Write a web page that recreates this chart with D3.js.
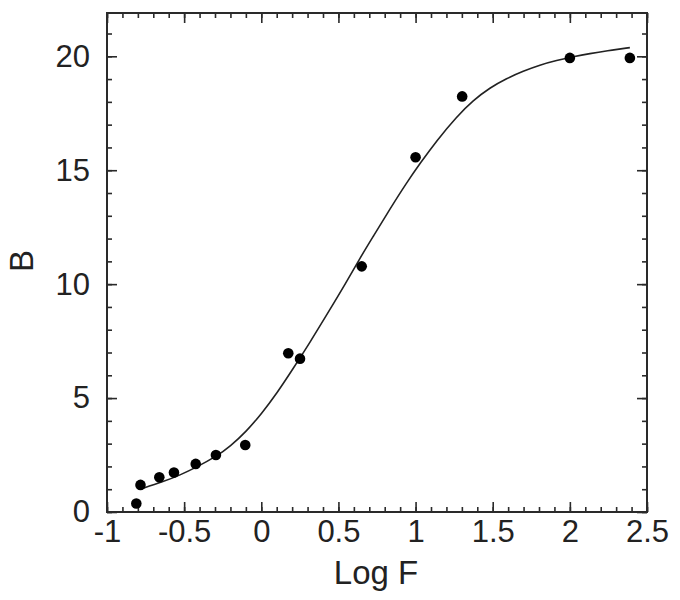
<!DOCTYPE html>
<html>
<head>
<meta charset="utf-8">
<script src="https://cdn.jsdelivr.net/npm/d3@7"></script>
<style>
  body { margin: 0; background: #fff; }
  svg { font-family: "Liberation Sans", Arial, sans-serif; }
  .axis path { display: none; }
  .axis line { stroke: #2a2a2a; stroke-width: 1.6; }
  .axis text { fill: #222; font-size: 31px; font-family: "Liberation Sans", Arial, sans-serif; }
</style>
</head>
<body>
<script>
// measured points, Log F vs B
var logF = [-0.81, -0.783, -0.661, -0.566, -0.425, -0.294, -0.104, 0.175, 0.251, 0.651, 1.0, 1.302, 2.0, 2.389];
var bVals = [0.37, 1.19, 1.52, 1.73, 2.11, 2.5, 2.94, 6.97, 6.73, 10.78, 15.57, 18.24, 19.93, 19.93];

// fitted curve
var fitX = [-0.786, -0.635, -0.527, -0.419, -0.289, -0.203, -0.095, 0.0, 0.1, 0.207, 0.316, 0.424, 0.553, 0.64, 0.726, 0.834, 0.942, 1.029, 1.137, 1.266, 1.374, 1.482, 1.59, 1.698, 1.806, 1.914, 2.022, 2.13, 2.238, 2.389];
var fitB = [1.0, 1.33, 1.62, 1.97, 2.45, 2.87, 3.55, 4.3, 5.2, 6.3, 7.45, 8.65, 10.1, 11.15, 12.1, 13.3, 14.45, 15.3, 16.3, 17.35, 18.07, 18.62, 19.03, 19.35, 19.62, 19.82, 19.98, 20.12, 20.24, 20.38];

var xTicks = [-1, -0.5, 0, 0.5, 1, 1.5, 2, 2.5];
var yTicks = [0, 5, 10, 15, 20];

function drawChart(){

  var width = 680, height = 600;
  var pLeft = 107, pRight = 647, pTop = 13, pBottom = 512;

  var svg = d3.select("body").append("svg")
    .attr("width", width)
    .attr("height", height);

  var x = d3.scaleLinear().domain([-1, 2.5]).range([pLeft, pRight]);
  var y = d3.scaleLinear().domain([0, 21.9]).range([pBottom, pTop]);

  var xMinor = d3.range(-10, 26).map(d => d / 10);
  var yMinor = d3.range(0, 22);

  // minor ticks all four sides (pointing inward)
  svg.append("g").attr("class", "axis")
    .attr("transform", "translate(0," + pBottom + ")")
    .call(d3.axisBottom(x).tickValues(xMinor).tickSize(-5).tickFormat(""));
  svg.append("g").attr("class", "axis")
    .attr("transform", "translate(0," + pTop + ")")
    .call(d3.axisTop(x).tickValues(xMinor).tickSize(-5).tickFormat(""));
  svg.append("g").attr("class", "axis")
    .attr("transform", "translate(" + pLeft + ",0)")
    .call(d3.axisLeft(y).tickValues(yMinor).tickSize(-5).tickFormat(""));
  svg.append("g").attr("class", "axis")
    .attr("transform", "translate(" + pRight + ",0)")
    .call(d3.axisRight(y).tickValues(yMinor).tickSize(-5).tickFormat(""));

  // major ticks + labels
  svg.append("g").attr("class", "axis")
    .attr("transform", "translate(0," + pBottom + ")")
    .call(d3.axisBottom(x).tickValues(xTicks).tickSize(-10).tickPadding(8).tickFormat(d => String(d)));
  svg.append("g").attr("class", "axis")
    .attr("transform", "translate(0," + pTop + ")")
    .call(d3.axisTop(x).tickValues(xTicks).tickSize(-10).tickFormat(""));
  svg.append("g").attr("class", "axis")
    .attr("transform", "translate(" + pLeft + ",0)")
    .call(d3.axisLeft(y).tickValues(yTicks).tickSize(-10).tickPadding(17).tickFormat(d => String(d)));
  svg.append("g").attr("class", "axis")
    .attr("transform", "translate(" + pRight + ",0)")
    .call(d3.axisRight(y).tickValues(yTicks).tickSize(-10).tickFormat(""));

  // frame
  svg.append("rect")
    .attr("x", pLeft).attr("y", pTop)
    .attr("width", pRight - pLeft).attr("height", pBottom - pTop)
    .style("fill", "none")
    .style("stroke", "#2a2a2a")
    .style("stroke-width", 2);

  // fit line
  var line = d3.line()
    .x((d, i) => x(fitX[i]))
    .y(d => y(d))
    .curve(d3.curveBasis);

  svg.append("path")
    .datum(fitB)
    .attr("d", line)
    .style("fill", "none")
    .style("stroke", "#222")
    .style("stroke-width", 1.6);

  // points
  svg.append("g").selectAll("circle")
    .data(bVals)
    .enter()
    .append("circle")
    .attr("cx", (d, i) => x(logF[i]))
    .attr("cy", d => y(d))
    .attr("r", 5.3)
    .style("fill", "#000");

  // axis titles
  svg.append("text")
    .attr("x", 376).attr("y", 584)
    .attr("text-anchor", "middle")
    .style("font-size", "33px")
    .style("fill", "#222")
    .text("Log F");

  svg.append("text")
    .attr("transform", "translate(33,261) rotate(-90)")
    .attr("text-anchor", "middle")
    .style("font-size", "33px")
    .style("fill", "#222")
    .text("B");
}

drawChart();
</script>
</body>
</html>
